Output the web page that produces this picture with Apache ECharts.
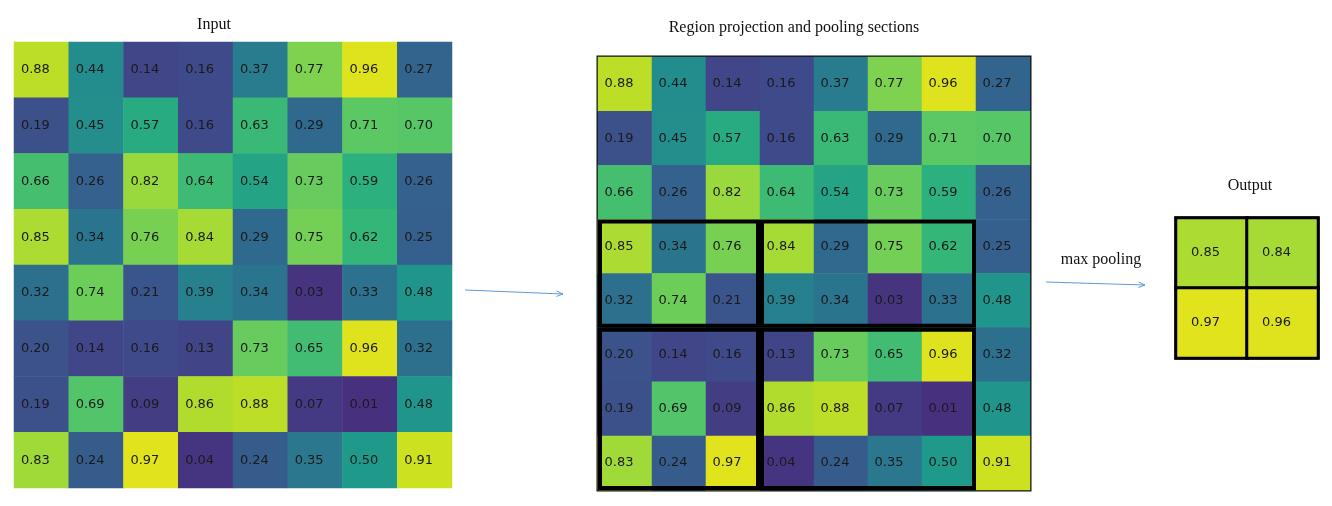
<!DOCTYPE html>
<html>
<head>
<meta charset="utf-8">
<script src="https://cdn.jsdelivr.net/npm/echarts@6/dist/echarts.min.js"></script>
<style>html,body{margin:0;padding:0;background:#fff}#main{width:1332px;height:506px}</style>
</head>
<body>
<div id="main"></div>
<script>
// input matrix, row by row (top to bottom)
const inputRows = [
  [0.88, 0.44, 0.14, 0.16, 0.37, 0.77, 0.96, 0.27],
  [0.19, 0.45, 0.57, 0.16, 0.63, 0.29, 0.71, 0.70],
  [0.66, 0.26, 0.82, 0.64, 0.54, 0.73, 0.59, 0.26],
  [0.85, 0.34, 0.76, 0.84, 0.29, 0.75, 0.62, 0.25],
  [0.32, 0.74, 0.21, 0.39, 0.34, 0.03, 0.33, 0.48],
  [0.20, 0.14, 0.16, 0.13, 0.73, 0.65, 0.96, 0.32],
  [0.19, 0.69, 0.09, 0.86, 0.88, 0.07, 0.01, 0.48],
  [0.83, 0.24, 0.97, 0.04, 0.24, 0.35, 0.50, 0.91]
];
const outputRows = [
  [0.85, 0.84],
  [0.97, 0.96]
];
// pooling sections: [colStart, colEnd, rowStart, rowEnd] (inclusive)
const sections = [
  [0, 2, 3, 4],
  [3, 6, 3, 4],
  [0, 2, 5, 7],
  [3, 6, 5, 7]
];
const idx8 = ['0','1','2','3','4','5','6','7'];
const idx2 = ['0','1'];

function toCells(rows) {
  const out = [];
  rows.forEach((r, y) => r.forEach((v, x) => out.push([x, y, v])));
  return out;
}

const viridis = ['#472f7d','#433e85','#3b528b','#2f6b8e','#26828e','#1f9a8a','#2db27d','#56c667','#8fd744','#c8e020','#ece51b'];

const chart = echarts.init(document.getElementById('main'));

function axes(n, cats, gi) {
  return {
    x: {type: 'category', data: cats, gridIndex: gi, show: false},
    y: {type: 'category', data: cats, gridIndex: gi, inverse: true, show: false}
  };
}
const a0 = axes(8, idx8, 0), a1 = axes(8, idx8, 1), a2 = axes(2, idx2, 2);

const cellLabel = {
  show: true,
  formatter: p => p.value[2].toFixed(2),
  fontSize: 13,
  color: '#1a1a1a',
  fontFamily: 'DejaVu Sans',
  offset: [-6, 0]
};

const arrowColor = '#5b9bd5';
function arrow(x1, y1, x2, y2) {
  const ang = Math.atan2(y2 - y1, x2 - x1);
  const L = 7;
  return [
    {type: 'line', shape: {x1, y1, x2, y2}, style: {stroke: arrowColor, lineWidth: 1}},
    {type: 'polyline', shape: {points: [
      [x2 - L * Math.cos(ang - 0.4), y2 - L * Math.sin(ang - 0.4)],
      [x2, y2],
      [x2 - L * Math.cos(ang + 0.4), y2 - L * Math.sin(ang + 0.4)]
    ]}, style: {stroke: arrowColor, lineWidth: 1, fill: null}}
  ];
}

const titleFont = {fontFamily: 'Liberation Serif', fontSize: 16, color: '#111', fontWeight: 'normal'};

chart.setOption({
  animation: false,
  title: [
    {text: 'Input', left: 209, top: 12, textAlign: 'center', textStyle: titleFont},
    {text: 'Region projection and pooling sections', left: 789, top: 15, textAlign: 'center', textStyle: titleFont},
    {text: 'Output', left: 1245, top: 173, textAlign: 'center', textStyle: titleFont},
    {text: 'max pooling', left: 1096, top: 247, textAlign: 'center', textStyle: titleFont}
  ],
  visualMap: {show: false, min: 0, max: 1, inRange: {color: viridis}, seriesIndex: [0, 1, 2]},
  grid: [
    {left: 14, top: 42, width: 438, height: 446},
    {left: 598, top: 57, width: 432, height: 433, show: true, borderColor: '#111', borderWidth: 3, backgroundColor: 'transparent'},
    {left: 1176, top: 218, width: 142, height: 140, show: true, borderColor: '#000', borderWidth: 3, backgroundColor: 'transparent'}
  ],
  xAxis: [a0.x, a1.x, a2.x],
  yAxis: [a0.y, a1.y, a2.y],
  series: [
    {type: 'heatmap', xAxisIndex: 0, yAxisIndex: 0, data: toCells(inputRows), label: cellLabel},
    {type: 'heatmap', xAxisIndex: 1, yAxisIndex: 1, data: toCells(inputRows), label: cellLabel},
    {type: 'heatmap', xAxisIndex: 2, yAxisIndex: 2, data: toCells(outputRows), label: cellLabel,
      itemStyle: {borderColor: '#000', borderWidth: 3}},
    {
      type: 'custom', xAxisIndex: 1, yAxisIndex: 1, z: 10,
      data: sections,
      renderItem: (params, api) => {
        const p0 = api.coord([api.value(0), api.value(2)]);
        const p1 = api.coord([api.value(1), api.value(3)]);
        const s = api.size([1, 1]);
        const x = p0[0] - s[0] / 2, y = p0[1] - s[1] / 2;
        return {
          type: 'rect',
          shape: {x: x + 2, y: y + 2, width: p1[0] - p0[0] + s[0] - 4, height: p1[1] - p0[1] + s[1] - 4},
          style: {fill: null, stroke: '#000', lineWidth: 4}
        };
      }
    }
  ],
  graphic: [].concat(arrow(465, 290, 563, 294), arrow(1046, 282, 1145, 285))
});
</script>
</body>
</html>
